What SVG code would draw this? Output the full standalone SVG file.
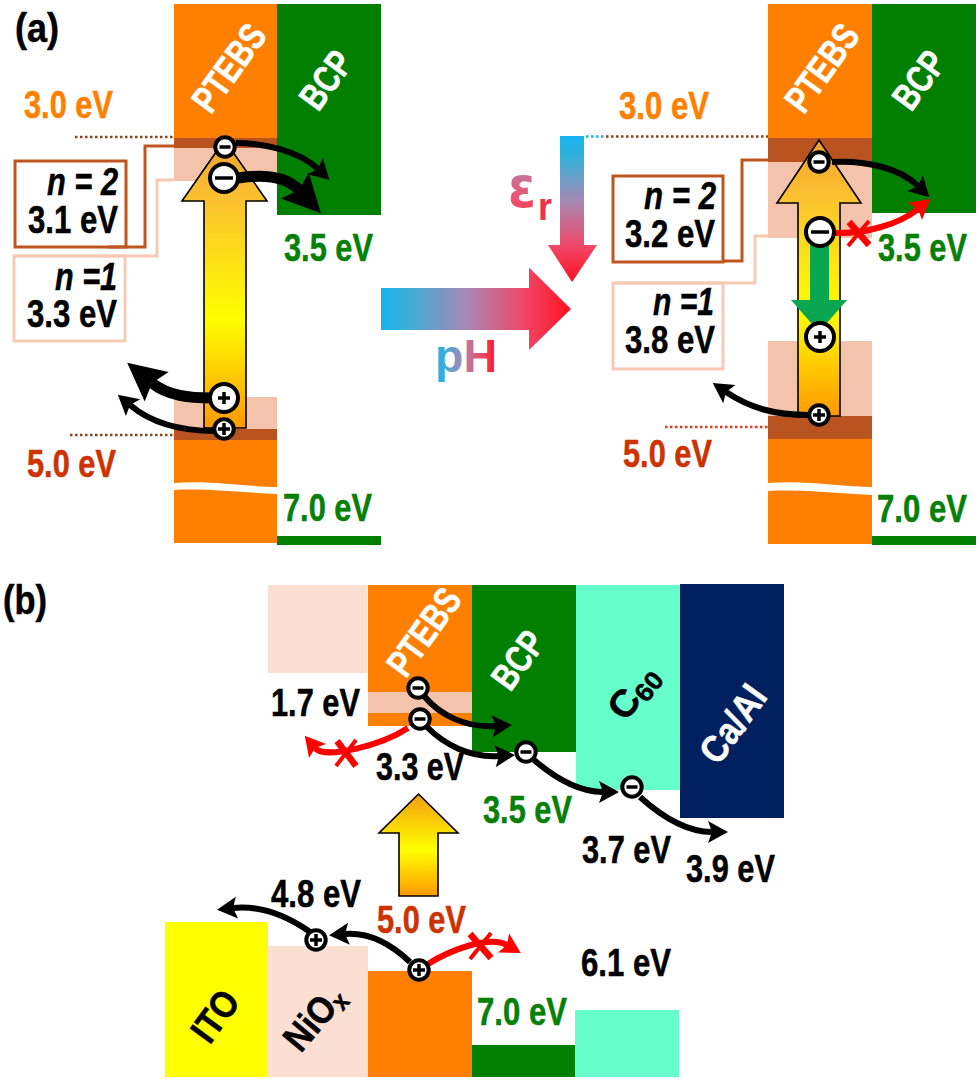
<svg xmlns="http://www.w3.org/2000/svg" xmlns:xlink="http://www.w3.org/1999/xlink" width="980" height="1082" viewBox="0 0 980 1082">
<style>
text{font-family:"Liberation Sans",Arial,sans-serif;font-weight:700;font-size:38px}
.i{font-style:italic}
.k{fill:#000;stroke:#000;stroke-width:.5}.w{fill:#fff;stroke:#fff;stroke-width:.5}.o{fill:#ff8000;stroke:#ff8000;stroke-width:.5}.g{fill:#078007;stroke:#078007;stroke-width:.5}.r{fill:#cc3300;stroke:#cc3300;stroke-width:.5}
.or{fill:#ff8000}.gr{fill:#007f00}.dk{fill:#b9531f}.lt{fill:#f4c3ac}.pk{fill:#fbdfd2}.aq{fill:#66ffcc}.nv{fill:#002060}.ye{fill:#ffff00}
.box{fill:#fff;stroke-width:3}
.c2{stroke:#c0561f}.c1{stroke:#f8c9b4}
.lead{fill:none;stroke-width:3;stroke-linejoin:miter}
.dot{fill:none;stroke-width:2.5;stroke-dasharray:2.5 2.5}
.up{stroke:#000;stroke-width:1.6}
.a{fill:none;stroke:#000;stroke-width:6;marker-end:url(#hk)}
.ar{fill:none;stroke:#ff0000;stroke-width:6;marker-end:url(#hr)}
.at{fill:none;stroke:#000;stroke-width:11;marker-end:url(#hb)}
.x{fill:none;stroke:#ff0000;stroke-width:6.500}
.x2{fill:none;stroke:#ff0000;stroke-width:4}
.cs{fill:#fff;stroke:#000;stroke-width:4}
.ln{fill:none;stroke:#000;stroke-width:3.5}
</style>
<defs>
<linearGradient id="ga" x1="0" y1="0" x2="0" y2="1"><stop offset="0" stop-color="#f0a030"/><stop offset=".2" stop-color="#fbc030"/><stop offset=".62" stop-color="#ffff00"/><stop offset="1" stop-color="#ff9900"/></linearGradient>
<linearGradient id="gb" x1="0" y1="0" x2="0" y2="1"><stop offset="0" stop-color="#f29f10"/><stop offset=".55" stop-color="#ffff00"/><stop offset="1" stop-color="#ff9900"/></linearGradient>
<linearGradient id="gh" x1="0" y1="0" x2="1" y2="0"><stop offset="0" stop-color="#18b4f0"/><stop offset=".12" stop-color="#34b0d8"/><stop offset=".45" stop-color="#a888b4"/><stop offset=".75" stop-color="#f04868"/><stop offset="1" stop-color="#ff1020"/></linearGradient>
<linearGradient id="gv" x1="0" y1="0" x2="0" y2="1"><stop offset="0" stop-color="#18b4f0"/><stop offset=".15" stop-color="#34b0d8"/><stop offset=".45" stop-color="#a888b4"/><stop offset=".75" stop-color="#f04868"/><stop offset="1" stop-color="#ff1020"/></linearGradient>
<linearGradient id="ge" x1="0" y1="0" x2="0" y2="1"><stop offset="0" stop-color="#a08cc0"/><stop offset=".6" stop-color="#e85a78"/><stop offset="1" stop-color="#ff3045"/></linearGradient>
<marker id="hk" markerUnits="userSpaceOnUse" viewBox="-5 -12 24 24" markerWidth="24" markerHeight="24" refX="0" refY="0" orient="auto"><polygon points="-4,-11 16,0 -4,11 0,0" fill="#000"/></marker>
<marker id="hr" markerUnits="userSpaceOnUse" viewBox="-5 -12 24 24" markerWidth="24" markerHeight="24" refX="0" refY="0" orient="auto"><polygon points="-4,-11 16,0 -4,11 0,0" fill="#ff0000"/></marker>
<marker id="hb" markerUnits="userSpaceOnUse" viewBox="-7 -20 40 40" markerWidth="40" markerHeight="40" refX="0" refY="0" orient="auto"><polygon points="-6,-19 32,0 -6,19 0,0" fill="#000"/></marker>
<g id="ms"><circle r="9.700" class="cs"/><path d="M-5.500,0H5.500" class="ln"/></g>
<g id="ps"><circle r="9.700" class="cs"/><path d="M-6,0H6M0,-6V6" class="ln"/></g>
<g id="ml"><circle r="14" class="cs"/><path d="M-9,0H9" class="ln"/></g>
<g id="pl"><circle r="14" class="cs"/><path d="M-6,0H6M0,-6V6" class="ln"/></g>
</defs>
<rect width="980" height="1082" fill="#fff"/>

<g id="label-a"><text x="15" y="42" style="font-size:40px" class="k" textLength="44" lengthAdjust="spacingAndGlyphs">(a)</text></g>

<g id="a1-ptebs">
<rect class="or" x="174" y="4" width="103" height="134"/>
<rect class="dk" x="174" y="138" width="103" height="10"/>
<rect class="lt" x="174" y="148" width="103" height="33"/>
<path class="or" d="M174,440H277V487C250,487 210,480 174,483Z"/>
<path class="or" d="M174,490C205,488 250,493 277,494V543H174Z"/>
<rect class="lt" x="174" y="397" width="103" height="32"/>
<rect class="dk" x="174" y="429" width="103" height="11"/>
<text class="w" transform="translate(229,68) rotate(-54)" y="13" text-anchor="middle" textLength="98" lengthAdjust="spacingAndGlyphs">PTEBS</text>
</g>
<g id="a1-bcp">
<rect class="gr" x="277" y="4" width="104" height="211"/>
<rect class="gr" x="277" y="536" width="104" height="9"/>
<text class="w" transform="translate(326,80) rotate(-54)" y="13" text-anchor="middle" textLength="62" lengthAdjust="spacingAndGlyphs">BCP</text>
</g>
<g id="a1-arrow"><path d="M224.500,140L267,201H246V428H204V201H182Z" fill="url(#ga)" class="up"/></g>
<g id="a1-labels">
<text class="o" x="24" y="118" textLength="89" lengthAdjust="spacingAndGlyphs">3.0 eV</text>
<text class="g" x="284" y="261" textLength="89" lengthAdjust="spacingAndGlyphs">3.5 eV</text>
<text class="r" x="27" y="477" textLength="89" lengthAdjust="spacingAndGlyphs">5.0 eV</text>
<text class="g" x="283" y="521" textLength="89" lengthAdjust="spacingAndGlyphs">7.0 eV</text>
</g>
<g id="a1-n2"><rect class="box c2" x="15" y="161" width="111" height="86"/>
<text class="k i" x="47" y="195" textLength="71" lengthAdjust="spacingAndGlyphs">n = 2</text>
<text class="k" x="28" y="233" textLength="90" lengthAdjust="spacingAndGlyphs">3.1 eV</text></g>
<g id="a1-n1"><rect class="box c1" x="14" y="256" width="111" height="85"/>
<text class="k i" x="55" y="290" textLength="62" lengthAdjust="spacingAndGlyphs">n =1</text>
<text class="k" x="27" y="327" textLength="90" lengthAdjust="spacingAndGlyphs">3.3 eV</text></g>

<g id="ph-arrow"><path d="M381,288H529V267.500L571,309L529,350V330H381Z" fill="url(#gh)"/>
<text x="435" y="372" style="font-size:46px" fill="url(#gh)" textLength="62" lengthAdjust="spacingAndGlyphs">pH</text></g>
<g id="er-arrow"><path d="M560,136H584V245H597L572,282L548,245H560Z" fill="url(#gv)"/>
<text x="508" y="207" style="font-size:57px;font-family:'DejaVu Sans',sans-serif" fill="url(#ge)" textLength="28" lengthAdjust="spacingAndGlyphs">ε</text>
<text x="538" y="220" style="font-size:38px" fill="#f0304a" textLength="14" lengthAdjust="spacingAndGlyphs">r</text></g>

<g id="a2-ptebs">
<rect class="or" x="768" y="4" width="104" height="134"/>
<rect class="dk" x="768" y="138" width="104" height="24"/>
<rect class="lt" x="768" y="162" width="104" height="76"/>
<rect class="lt" x="768" y="341" width="104" height="75"/>
<rect class="dk" x="768" y="416" width="104" height="23"/>
<path class="or" d="M768,439H872V487C845,487 805,480 768,483Z"/>
<path class="or" d="M768,491C800,489 845,494 872,495V544H768Z"/>
<text class="w" transform="translate(822,68) rotate(-54)" y="13" text-anchor="middle" textLength="98" lengthAdjust="spacingAndGlyphs">PTEBS</text>
</g>
<g id="a2-bcp">
<rect class="gr" x="872" y="4" width="104" height="209"/>
<rect class="gr" x="872" y="536" width="104" height="9"/>
<text class="w" transform="translate(919,80) rotate(-54)" y="13" text-anchor="middle" textLength="62" lengthAdjust="spacingAndGlyphs">BCP</text>
</g>
<g id="a2-arrow"><path d="M819,140L861,203H840V416H798V203H777Z" fill="url(#ga)" class="up"/>
<path d="M810,232H829V300H847L819,332L791,300H810Z" fill="#0aa650"/></g>
<g id="a2-labels">
<text class="o" x="619" y="119" textLength="90" lengthAdjust="spacingAndGlyphs">3.0 eV</text>
<text class="g" x="878" y="261" textLength="89" lengthAdjust="spacingAndGlyphs">3.5 eV</text>
<text class="r" x="623" y="467" textLength="89" lengthAdjust="spacingAndGlyphs">5.0 eV</text>
<text class="g" x="877" y="522" textLength="90" lengthAdjust="spacingAndGlyphs">7.0 eV</text>
</g>
<g id="a2-n2"><rect class="box c2" x="613" y="176" width="110" height="86"/>
<text class="k i" x="644" y="209" textLength="72" lengthAdjust="spacingAndGlyphs">n = 2</text>
<text class="k" x="625" y="247" textLength="90" lengthAdjust="spacingAndGlyphs">3.2 eV</text></g>
<g id="a2-n1"><rect class="box c1" x="613" y="283" width="110" height="86"/>
<text class="k i" x="653" y="315" textLength="61" lengthAdjust="spacingAndGlyphs">n =1</text>
<text class="k" x="625" y="353" textLength="90" lengthAdjust="spacingAndGlyphs">3.8 eV</text></g>

<g id="label-b"><text x="3" y="614" style="font-size:40px" class="k" textLength="44" lengthAdjust="spacingAndGlyphs">(b)</text></g>
<g id="b-nio-top"><rect class="pk" x="268" y="585" width="99" height="88"/></g>
<g id="b-ptebs"><rect class="or" x="368" y="585" width="104" height="141"/>
<rect class="lt" x="368" y="692" width="104" height="21"/>
<text class="w" transform="translate(424,632) rotate(-54)" y="13" text-anchor="middle" textLength="98" lengthAdjust="spacingAndGlyphs">PTEBS</text></g>
<g id="b-bcp"><rect class="gr" x="472" y="585" width="104" height="167"/>
<text class="w" transform="translate(518,660) rotate(-54)" y="13" text-anchor="middle" textLength="62" lengthAdjust="spacingAndGlyphs">BCP</text></g>
<g id="b-c60"><rect class="aq" x="576" y="585" width="104" height="205"/>
<text class="k" transform="translate(633,692) rotate(-52)" y="13" text-anchor="middle" textLength="58" lengthAdjust="spacingAndGlyphs">C<tspan style="font-size:26px" dy="5">60</tspan></text></g>
<g id="b-cal"><rect class="nv" x="680" y="584" width="104" height="234"/>
<text class="w" transform="translate(733,724) rotate(-54)" y="13" text-anchor="middle" textLength="86" lengthAdjust="spacingAndGlyphs">Ca/Al</text></g>
<g id="b-ito"><rect class="ye" x="165" y="922" width="103" height="155"/>
<text class="k" transform="translate(215,1016) rotate(-54)" y="13" text-anchor="middle" textLength="54" lengthAdjust="spacingAndGlyphs">ITO</text></g>
<g id="b-nio"><rect class="pk" x="268" y="946" width="100" height="131"/>
<text class="k" transform="translate(314,1018) rotate(-50)" y="13" text-anchor="middle" textLength="72" lengthAdjust="spacingAndGlyphs">NiO<tspan style="font-size:26px" dy="5">x</tspan></text></g>
<g id="b-ptebs-low"><rect class="or" x="368" y="971" width="104" height="106"/></g>
<g id="b-bcp-low"><rect class="gr" x="472" y="1045" width="103" height="32"/></g>
<g id="b-c60-low"><rect class="aq" x="575" y="1010" width="104" height="67"/></g>
<g id="b-arrow"><path d="M418.500,794L458,833H438V896H399V833H379Z" fill="url(#gb)" class="up"/></g>
<g id="b-labels">
<text class="k" x="271" y="716" textLength="89" lengthAdjust="spacingAndGlyphs">1.7 eV</text>
<text class="k" x="376" y="780" textLength="88" lengthAdjust="spacingAndGlyphs">3.3 eV</text>
<text class="g" x="483" y="823" textLength="89" lengthAdjust="spacingAndGlyphs">3.5 eV</text>
<text class="k" x="582" y="863" textLength="89" lengthAdjust="spacingAndGlyphs">3.7 eV</text>
<text class="k" x="686" y="882" textLength="89" lengthAdjust="spacingAndGlyphs">3.9 eV</text>
<text class="k" x="271" y="907" textLength="90" lengthAdjust="spacingAndGlyphs">4.8 eV</text>
<text class="r" x="377" y="933" textLength="89" lengthAdjust="spacingAndGlyphs">5.0 eV</text>
<text class="k" x="581" y="976" textLength="90" lengthAdjust="spacingAndGlyphs">6.1 eV</text>
<text class="g" x="477" y="1025" textLength="90" lengthAdjust="spacingAndGlyphs">7.0 eV</text>
</g>

<g id="connectors">
<path class="dot" stroke="#8c4318" d="M75,137H174M70,435H174"/>
<path class="dot" stroke="#18b4f0" d="M586,136.500H606"/>
<path class="dot" stroke="#8c4318" d="M606,136.500H768"/>
<path class="dot" stroke="#e03c1c" d="M665,427H768"/>
<path class="lead c2" d="M108,247H145V146H174"/>
<path class="lead c1" d="M14,256H157V180H174"/>
<path class="lead c2" d="M723,261H742V160H768"/>
<path class="lead c1" d="M613,283H755V236H768"/>
<path class="a" d="M236,143C262,143 298,150 318,169"/>
<path class="at" d="M238,178C258,175 284,174 299,190"/>
<path class="at" d="M212,398C190,398 168,396 152,383"/>
<path class="a" d="M215,431C180,431 150,422 130,405"/>
<path class="a" d="M832,162C865,160 900,168 918,186"/>
<path class="ar" d="M835,233C865,234 900,224 918,209"/>
<path class="a" d="M808,415C775,415 750,408 726,392"/>
<path class="a" d="M424,696C440,715 465,728 496,726"/>
<path class="a" d="M427,727C445,745 470,758 499,756"/>
<path class="a" d="M534,760C555,778 578,792 603,792"/>
<path class="a" d="M640,797C660,815 685,832 712,832"/>
<path class="a" d="M410,962C392,945 370,932 345,934"/>
<path class="a" d="M310,932C290,918 262,905 233,908"/>
<path class="ar" d="M408,728C382,745 325,760 315,748"/>
<path class="ar" d="M428,964C450,950 490,935 507,945"/>
<path class="x" d="M849,222L869,245"/><path class="x2" d="M869,221L848,246"/>
<path class="x" d="M337,741L356,766"/><path class="x2" d="M356,740L336,766"/>
<path class="x" d="M470,934L491,958"/><path class="x2" d="M491,933L470,959"/>
</g>

<g id="a1-carriers">
<use xlink:href="#ms" href="#ms" x="225" y="147"/>
<use xlink:href="#ml" href="#ml" x="224" y="178"/>
<use xlink:href="#pl" href="#pl" x="224" y="398"/>
<use xlink:href="#ps" href="#ps" x="224" y="429"/>
</g>
<g id="a2-carriers">
<use xlink:href="#ms" href="#ms" x="819" y="162"/>
<use xlink:href="#ml" href="#ml" x="820" y="232"/>
<use xlink:href="#pl" href="#pl" x="820" y="337"/>
<use xlink:href="#ps" href="#ps" x="819" y="415"/>
</g>
<g id="b-carriers">
<use xlink:href="#ms" href="#ms" x="418" y="688"/>
<use xlink:href="#ms" href="#ms" x="420" y="719"/>
<use xlink:href="#ms" href="#ms" x="526" y="752"/>
<use xlink:href="#ms" href="#ms" x="632" y="787"/>
<use xlink:href="#ps" href="#ps" x="316" y="940"/>
<use xlink:href="#ps" href="#ps" x="419" y="970"/>
</g>
</svg>
